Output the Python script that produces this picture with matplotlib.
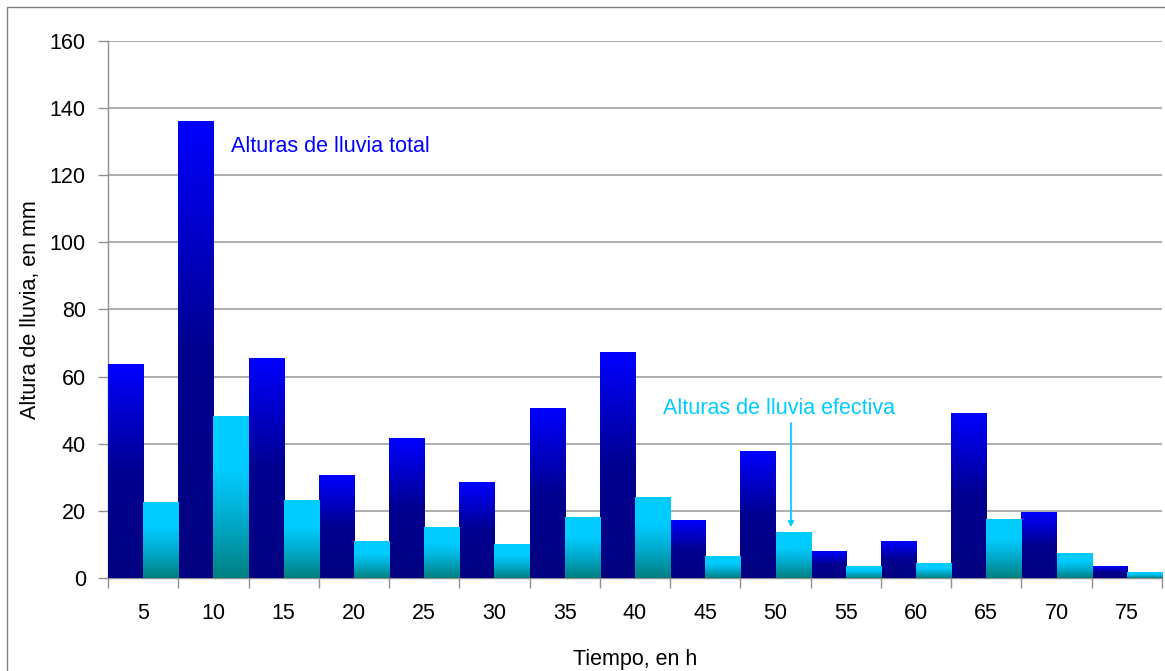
import numpy as np
import matplotlib
matplotlib.use("Agg")
import matplotlib.pyplot as plt
from matplotlib.colors import LinearSegmentedColormap
from matplotlib.patches import Rectangle

plt.rcParams['font.family'] = ['Liberation Sans', 'DejaVu Sans']

# datos
tiempo = [5, 10, 15, 20, 25, 30, 35, 40, 45, 50, 55, 60, 65, 70, 75]
lluvia_total = [63.5, 136, 65.5, 30.4, 41.7, 28.6, 50.4, 67.3, 17.0, 37.8, 8.0, 11.0, 48.9, 19.4, 3.3]
lluvia_efectiva = [22.6, 48.0, 23.2, 11.0, 14.9, 10.1, 17.9, 24.1, 6.3, 13.7, 3.3, 4.2, 17.3, 7.4, 1.5]

cmap_total = LinearSegmentedColormap.from_list("total", ["#000080", "#000090", "#0000FF"])
cmap_efec = LinearSegmentedColormap.from_list("efec", ["#008080", "#00A8C8", "#00CCFF", "#00CCFF"])

fig = plt.figure(figsize=(11.65, 6.71), dpi=100)
ax = fig.add_axes([0.0927, 0.1386, 0.9047, 0.8003])

x = np.arange(len(tiempo))
w = 0.5
grad = np.linspace(0, 1, 256).reshape(-1, 1)


def gradient_bars(xs, heights, cmap):
    bars = ax.bar(xs, heights, width=w, color="none", edgecolor="none", zorder=3)
    for b in bars:
        x0, y0 = b.get_x(), b.get_y()
        ax.imshow(grad, extent=[x0, x0 + b.get_width(), y0, y0 + b.get_height()],
                  origin="lower", cmap=cmap, aspect="auto", zorder=3,
                  interpolation="bilinear")


gradient_bars(x - 0.25, lluvia_total, cmap_total)
gradient_bars(x + 0.25, lluvia_efectiva, cmap_efec)

ax.set_xlim(-0.5, len(tiempo) - 0.5)
ax.set_ylim(0, 160)
ax.set_yticks(np.arange(0, 161, 20))
ax.grid(axis="y", color="#A0A0A0", linewidth=1.2, zorder=0)
ax.set_axisbelow(True)

ax.set_xticks(np.arange(-0.5, len(tiempo), 1))
ax.set_xticklabels([])
ax.set_xticks(x, minor=True)
ax.set_xticklabels([str(t) for t in tiempo], minor=True)
ax.tick_params(axis="x", which="major", length=7, color="#909090", width=1)
ax.tick_params(axis="x", which="minor", length=0, pad=18, labelsize=15.5)
ax.tick_params(axis="y", length=7, color="#909090", width=1, labelsize=15.5, pad=9)

for s in ["top", "right"]:
    ax.spines[s].set_visible(False)
for s in ["left", "bottom"]:
    ax.spines[s].set_color("#909090")
    ax.spines[s].set_linewidth(1)

ax.set_xlabel("Tiempo, en h", fontsize=15.5, labelpad=18)
ax.set_ylabel("Altura de lluvia, en mm", fontsize=15.5, labelpad=6)

ax.text(1.25, 128.5, "Alturas de lluvia total", color="#0000FF", fontsize=15.5, va="center")
ax.text(9.05, 50.5, "Alturas de lluvia efectiva", color="#00CCFF", fontsize=15.5, va="center", ha="center")
ax.annotate("", xy=(9.22, 14.3), xytext=(9.22, 47.0),
            arrowprops=dict(arrowstyle="-|>", color="#00CCFF", lw=1.3, mutation_scale=8))

# marco exterior del grafico
fig.patches.append(Rectangle((7 / 1165, -0.1), 1.2, 1.1 - 7 / 671, transform=fig.transFigure,
                             fill=False, edgecolor="#808080", linewidth=1))

fig.savefig("out.png", dpi=100)
